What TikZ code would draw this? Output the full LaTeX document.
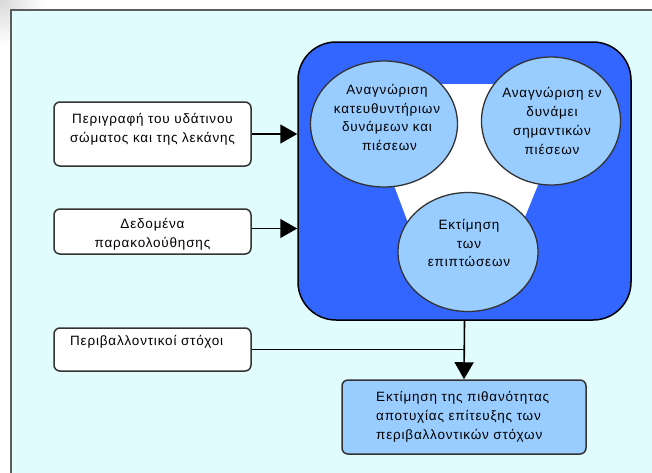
\documentclass[tikz,border=0pt]{standalone}
\usepackage{fontspec}
\setmainfont{Liberation Sans}
\newfontfamily\diagfont[LetterSpace=6]{Liberation Sans}
\usetikzlibrary{shapes.geometric,arrows.meta}

\definecolor{panelcyan}{HTML}{E0FCFC}
\definecolor{mainblue}{HTML}{3366FF}
\definecolor{lightblue}{HTML}{99CCFF}
\definecolor{edgegrey}{HTML}{333333}

\tikzset{
  inbox/.style={draw=edgegrey, line width=1.5pt, fill=white, rounded corners=6pt,
    inner sep=0pt},
  bubble/.style={ellipse, draw=edgegrey, line width=1.3pt, fill=lightblue,
    inner sep=0pt},
  label text/.style={font=\diagfont\fontsize{13.5}{18.7}\selectfont, align=center, inner sep=0pt},
  conn/.style={draw=black, line width=1.6pt, -{Triangle[length=17pt,width=19pt]}},
  plainline/.style={draw=black, line width=1.6pt},
}

\begin{document}
\begin{tikzpicture}[x=1pt,y=-1pt]
  \useasboundingbox (0,0) rectangle (652,472);

  % page background and faint corner shade
  \fill[white] (0,0) rectangle (652,472);
  \shade[inner color=gray!30, outer color=white] (0,0) circle (45);

  % panel
  \fill[panelcyan] (11,10) rectangle (660,480);
  \draw[edgegrey!80, line width=1.5pt] (11,480) -- (11,10) -- (660,10);

  % central block
  \node[draw=black, line width=1.5pt, fill=mainblue, rounded corners=38pt,
        minimum width=333pt, minimum height=278pt, inner sep=0pt]
        (main) at (464.5,181) {};

  % white gap between the three bubbles
  \fill[white] (436,84) -- (500,84) -- (540,180) -- (522,224) -- (410,228) -- (392,180) -- cycle;

  \node[bubble, minimum width=147pt, minimum height=126pt] (c1) at (384,124) {};
  \node[bubble, minimum width=139pt, minimum height=128pt] (c2) at (551,121) {};
  \node[bubble, minimum width=140pt, minimum height=119pt] (c3) at (468,252) {};

  \node[label text] (t1) at (387,117.5) {Αναγνώριση\\κατευθυντήριων\\δυνάμεων και\\\hspace{5pt}πιέσεων};
  \node[label text] (t2) at (552,121) {Αναγνώριση εν\\δυνάμει\\σημαντικών\\πιέσεων};
  \node[label text] (t3) at (469,243) {Εκτίμηση\\των\hspace{14pt}\\επιπτώσεων};

  % input boxes
  \node[inbox, minimum width=197pt, minimum height=64pt] (b1) at (152.5,134) {};
  \node[label text] (b1t) at (152.5,129) {Περιγραφή του υδάτινου\\σώματος και της λεκάνης};
  \node[inbox, minimum width=197pt, minimum height=45pt] (b2) at (152.5,231.5) {};
  \node[label text] (b2t) at (152.5,234) {Δεδομένα\\παρακολούθησης};
  \node[inbox, minimum width=197pt, minimum height=43pt] (b3) at (152.5,349.5) {};
  \node[label text, anchor=west] (b3t) at (70,342) {Περιβαλλοντικοί στόχοι};

  % result box
  \node[inbox, fill=lightblue, minimum width=244pt, minimum height=74pt] (res) at (464,417) {};
  \node[label text, align=left, anchor=west] (rest) at (376,417)
        {Εκτίμηση της πιθανότητας\\αποτυχίας επίτευξης των\\περιβαλλοντικών στόχων};

  % connectors
  \coordinate (a2) at ([yshift=3pt]b2.east);
  \draw[conn] (b1.east) -- (main.west |- b1.east);
  \draw[conn] (a2) -- (main.west |- a2);
  \draw[conn] (main.south) -- (res.north);
  \draw[plainline] (b3.east) -- (b3.east -| main.south);
\end{tikzpicture}
\end{document}
